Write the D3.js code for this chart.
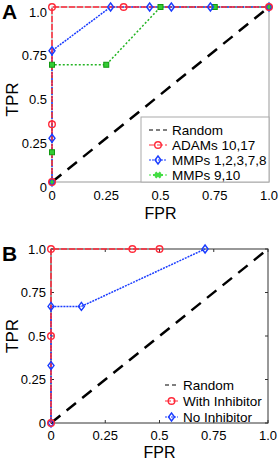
<!DOCTYPE html>
<html>
<head>
<meta charset="utf-8">
<script src="https://cdn.jsdelivr.net/npm/d3@7"></script>
<style>
  body { margin: 0; background: #fff; }
  text { font-family: "Liberation Sans", Arial, sans-serif; }
</style>
</head>
<body>
<script>
// Tick labels shared by both panels
var tickValues = [0, 0.25, 0.5, 0.75, 1];
var tickLabels = ["0", "0.25", "0.5", "0.75", "1.0"];

// Panel A series (FPR / TPR)
var adamsFpr = [0, 0, 0, 0.33, 1];
var adamsTpr = [0, 0.33, 1, 1, 1];
var mmp1Fpr = [0, 0, 0, 0.27, 0.45, 0.55, 0.73, 1];
var mmp1Tpr = [0, 0.25, 0.75, 1, 1, 1, 1, 1];
var mmp9Fpr = [0, 0, 0, 0.25, 0.5, 0.75, 1];
var mmp9Tpr = [0, 0.17, 0.67, 0.67, 1, 1, 1];

// Panel B series
var withFpr = [0, 0, 0, 0.375, 0.5];
var withTpr = [0, 0.5, 1, 1, 1];
var noFpr = [0, 0, 0, 0.14, 0.71];
var noTpr = [0, 0.33, 0.67, 0.67, 1];

// Random guess diagonal
var randomLine = [0, 1];

var svg = d3.select("body")
  .append("svg")
  .attr("width", 280)
  .attr("height", 461);

function zip(xs, ys) {
  return xs.map((x, i) => ({x: x, y: ys[i]}));
}

var RED = "#ff2a3a", BLUE = "#1a3cff", GREEN = "#22b422";

function panel(opt) {
  var x = d3.scaleLinear().domain([0, 1]).range(opt.xr);
  var y = d3.scaleLinear().domain([0, 1]).range(opt.yr);
  var g = svg.append("g");
  var line = d => d3.line().x(p => x(p.x)).y(p => y(p.y))(d);

  // frame
  g.append("rect")
    .attr("x", x(0)).attr("y", y(1))
    .attr("width", x(1) - x(0)).attr("height", y(0) - y(1))
    .attr("fill", "none").attr("stroke", opt.frame).attr("stroke-width", 1);

  if (opt.ticks) {
    var ti = 3;
    tickValues.forEach(t => {
      g.append("line").attr("x1", x(t)).attr("x2", x(t)).attr("y1", y(0)).attr("y2", y(0) - ti).attr("stroke", opt.frame);
      g.append("line").attr("x1", x(t)).attr("x2", x(t)).attr("y1", y(1)).attr("y2", y(1) + ti).attr("stroke", opt.frame);
      g.append("line").attr("y1", y(t)).attr("y2", y(t)).attr("x1", x(0)).attr("x2", x(0) + ti).attr("stroke", opt.frame);
      g.append("line").attr("y1", y(t)).attr("y2", y(t)).attr("x1", x(1)).attr("x2", x(1) - ti).attr("stroke", opt.frame);
    });
  }

  // tick labels
  tickValues.forEach((t, i) => {
    g.append("text").attr("x", x(t)).attr("y", y(0) + opt.tickGap)
      .attr("text-anchor", "middle").attr("font-size", 13).text(tickLabels[i]);
    g.append("text").attr("x", x(0) - 5).attr("y", y(t) + 4.5 + opt.labelShift)
      .attr("text-anchor", "end").attr("font-size", 13).text(tickLabels[i]);
  });

  // axis titles
  g.append("text").attr("x", (x(0) + x(1)) / 2).attr("y", y(0) + opt.fprGap)
    .attr("text-anchor", "middle").attr("font-size", 16).text("FPR");
  g.append("text")
    .attr("transform", `translate(18, ${(y(0) + y(1)) / 2 + opt.labelShift}) rotate(-90)`)
    .attr("text-anchor", "middle").attr("font-size", 17).text("TPR");
  g.append("text").attr("x", 2).attr("y", y(1) + 12)
    .attr("font-size", 21).attr("font-weight", "bold").text(opt.letter);

  // random diagonal
  g.append("path").attr("d", line(zip(randomLine, randomLine)))
    .attr("stroke", "#000").attr("stroke-width", 2.5).attr("fill", "none")
    .attr("stroke-dasharray", "12,8");

  // series lines (drawn in reverse legend order so the first sits on top)
  var drawOrder = opt.series.slice().reverse();
  drawOrder.forEach(s => {
    g.append("path").attr("d", line(zip(s.fpr, s.tpr)))
      .attr("stroke", s.color).attr("stroke-width", 1.5).attr("fill", "none")
      .attr("stroke-dasharray", s.dash);
  });
  // markers
  drawOrder.forEach(s => {
    zip(s.fpr, s.tpr).forEach(p => drawMarker(g, s.marker, x(p.x), y(p.y), s.color));
  });

  // legend
  var lg = opt.legend;
  if (lg.box) {
    g.append("rect").attr("x", lg.box[0]).attr("y", lg.box[1])
      .attr("width", lg.box[2]).attr("height", lg.box[3])
      .attr("fill", "#fff").attr("stroke", "#aaa");
  }
  var items = [{name: "Random", color: "#000", dash: "4,3", marker: null}]
    .concat(opt.series.map(s => ({name: s.name, color: s.color, dash: s.dash, marker: s.legendMarker || s.marker, mcolor: s.legendColor || s.color})));
  items.forEach((it, i) => {
    var yy = lg.y0 + i * lg.dy;
    g.append("line").attr("x1", lg.x0).attr("x2", lg.x0 + lg.len).attr("y1", yy).attr("y2", yy)
      .attr("stroke", it.mcolor || it.color).attr("stroke-width", 1.2).attr("stroke-dasharray", it.dash);
    if (it.marker) drawMarker(g, it.marker, lg.x0 + lg.len / 2, yy, it.mcolor);
    g.append("text").attr("x", lg.tx).attr("y", yy + 5)
      .attr("font-size", 13.5).text(it.name);
  });
}

function drawMarker(g, type, cx, cy, color) {
  if (type === "circle") {
    g.append("circle").attr("cx", cx).attr("cy", cy).attr("r", 3.3)
      .attr("fill", "none").attr("stroke", color).attr("stroke-width", 1.4);
  } else if (type === "diamond") {
    g.append("path").attr("d", `M${cx},${cy - 4}L${cx + 3},${cy}L${cx},${cy + 4}L${cx - 3},${cy}Z`)
      .attr("fill", "none").attr("stroke", color).attr("stroke-width", 1.4);
  } else if (type === "square") {
    g.append("rect").attr("x", cx - 2.5).attr("y", cy - 2.5).attr("width", 5).attr("height", 5)
      .attr("fill", "#33cc33").attr("stroke", "#119911").attr("stroke-width", 1);
  } else if (type === "star") {
    g.append("path").attr("d", d3.symbol().type(d3.symbolCross).size(30)())
      .attr("transform", `translate(${cx},${cy}) rotate(45)`).attr("fill", color);
    g.append("path").attr("d", `M${cx - 5},${cy}H${cx + 5}`).attr("stroke", color).attr("stroke-width", 2);
  }
}

panel({
  letter: "A", xr: [52, 269], yr: [182, 7], frame: "#999", ticks: false, labelShift: 5, tickGap: 18, fprGap: 37,
  series: [
    {name: "ADAMs 10,17", fpr: adamsFpr, tpr: adamsTpr, color: RED, dash: "6,2", marker: "circle"},
    {name: "MMPs 1,2,3,7,8", fpr: mmp1Fpr, tpr: mmp1Tpr, color: BLUE, dash: "2,1", marker: "diamond"},
    {name: "MMPs 9,10", fpr: mmp9Fpr, tpr: mmp9Tpr, color: GREEN, dash: "2,2", marker: "square", legendMarker: "star", legendColor: "#44dd44"}
  ],
  legend: {box: [141, 117, 128, 65], x0: 149, len: 18, tx: 172, y0: 130, dy: 15}
});

panel({
  letter: "B", xr: [51, 268], yr: [423, 249], frame: "#333", ticks: true, labelShift: 0, tickGap: 16.5, fprGap: 34.5,
  series: [
    {name: "With Inhibitor", fpr: withFpr, tpr: withTpr, color: RED, dash: "6,2", marker: "circle"},
    {name: "No Inhibitor", fpr: noFpr, tpr: noTpr, color: BLUE, dash: "2,1", marker: "diamond"}
  ],
  legend: {box: null, x0: 165, len: 13, tx: 183, y0: 385, dy: 16}
});
</script>
</body>
</html>
